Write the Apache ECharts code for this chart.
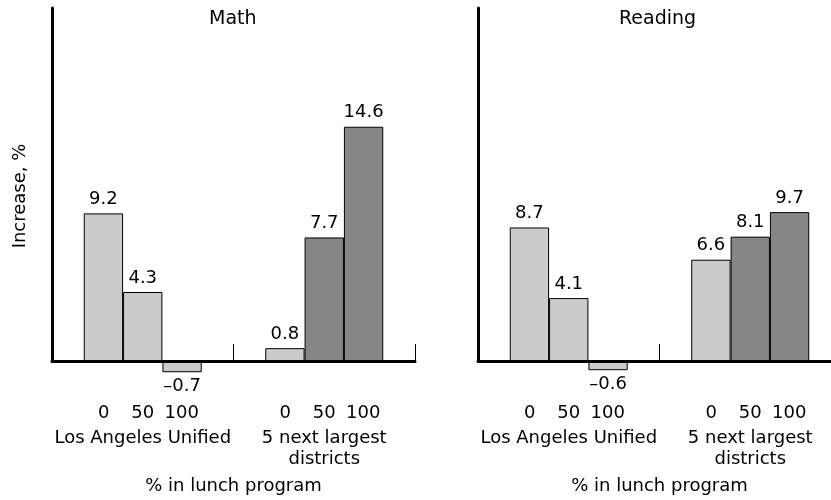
<!DOCTYPE html>
<html>
<head>
<meta charset="utf-8">
<script src="https://cdn.jsdelivr.net/npm/echarts@6/dist/echarts.min.js"></script>
<style>
  html, body { margin: 0; padding: 0; background: #fff; overflow: hidden; }
  #chart { width: 846px; height: 500px; }
</style>
</head>
<body>
<div id="chart"></div>
<script>
// ---- data ----
const subjects = ['Math', 'Reading'];
const groups = ['Los Angeles Unified', '5 next largest\ndistricts'];
const lunchLevels = ['0', '50', '100'];
const mathLA = [9.2, 4.3, -0.7];
const mathNext5 = [0.8, 7.7, 14.6];
const readingLA = [8.7, 4.1, -0.6];
const readingNext5 = [6.6, 8.1, 9.7];
const yMax = [22, 23];
const yAxisTitle = 'Increase, %';
const xAxisTitle = '% in lunch program';

// ---- styles ----
const LIGHT = '#cbcbcb';
const DARK = '#868686';
const groupColors = [[LIGHT, LIGHT, LIGHT], [LIGHT, DARK, DARK]];
const FONT = 'DejaVu Sans';

const panelData = [[mathLA, mathNext5], [readingLA, readingNext5]];

function fmtVal(v) {
  return v < 0 ? '\u2013' + Math.abs(v).toFixed(1) : v.toFixed(1);
}

function catLabel(name) {
  const top = lunchLevels.map(l => '{n|' + l + '}').join('');
  const lines = name.split('\n').map(s => '{c|' + s + '}').join('\n');
  return top + '\n' + lines;
}

const grids = [
  { left: 52, top: 8, width: 363, height: 354 },
  { left: 478, top: 8, width: 363, height: 354 }
];

const titleLefts = [209, 619];

const option = {
  animation: false,
  backgroundColor: '#fff',
  title: subjects.map((s, p) => ({
    text: s,
    left: titleLefts[p],
    top: 10,
    padding: 0,
    textStyle: { fontSize: 19, fontWeight: 'normal', color: '#000', fontFamily: FONT }
  })),
  grid: grids,
  xAxis: subjects.map((s, p) => ({
    type: 'category',
    gridIndex: p,
    data: groups,
    z: 5,
    axisLine: { show: true, lineStyle: { color: '#000', width: 3 } },
    axisTick: { show: true, inside: true, length: 17, lineStyle: { color: '#000', width: 1 } },
    axisLabel: {
      interval: 0,
      margin: 38,
      color: '#000',
      fontFamily: FONT,
      fontSize: 18,
      formatter: catLabel,
      rich: {
        n: { width: 39, align: 'center', fontSize: 18, fontFamily: FONT, color: '#000', lineHeight: 29 },
        c: { align: 'center', fontSize: 18, fontFamily: FONT, color: '#000', lineHeight: 21 }
      }
    },
    splitLine: { show: false },
    name: xAxisTitle,
    nameLocation: 'middle',
    nameGap: 116,
    nameTextStyle: { fontSize: 18, color: '#000', fontFamily: FONT }
  })),
  yAxis: subjects.map((s, p) => ({
    type: 'value',
    gridIndex: p,
    min: 0,
    max: yMax[p],
    z: 5,
    axisLine: { show: true, lineStyle: { color: '#000', width: 3 } },
    axisTick: { show: false },
    axisLabel: { show: false },
    splitLine: { show: false },
    name: p === 0 ? yAxisTitle : '',
    nameLocation: 'middle',
    nameGap: 23,
    nameTextStyle: { fontSize: 18, color: '#000', fontFamily: FONT, padding: [0, 23, 0, 0] }
  })),
  series: []
};

subjects.forEach((s, p) => {
  lunchLevels.forEach((lvl, i) => {
    option.series.push({
      type: 'bar',
      name: s + ' ' + lvl,
      xAxisIndex: p,
      yAxisIndex: p,
      barGap: '0%',
      barCategoryGap: '35%',
      clip: false,
      label: {
        show: true,
        distance: 5,
        color: '#000',
        fontFamily: FONT,
        fontSize: 18,
        formatter: (prm) => fmtVal(prm.value)
      },
      data: groups.map((g, gi) => {
        const v = panelData[p][gi][i];
        return {
          value: v,
          itemStyle: { color: groupColors[gi][i], borderColor: '#000', borderWidth: 1 },
          label: { position: v < 0 ? 'bottom' : 'top' }
        };
      })
    });
  });
});

const chart = echarts.init(document.getElementById('chart'), null, { renderer: 'canvas' });
chart.setOption(option);
</script>
</body>
</html>
